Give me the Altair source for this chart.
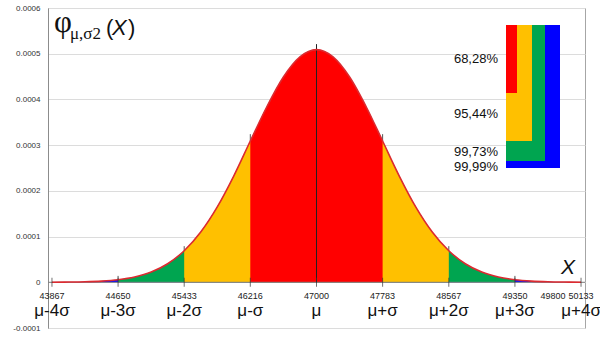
import altair as alt
import pandas as pd

# ---- data ----
x_vals = [43867, 44063, 44258, 44454, 44650, 44846, 45042, 45237, 45433,
          45629, 45825, 46021, 46216, 46412, 46608, 46804, 47000,
          47196, 47392, 47588, 47783, 47979, 48175, 48371, 48567,
          48762, 48958, 49154, 49350, 49546, 49742, 49937, 50133]
density = [0.0000002, 0.0000005, 0.0000011, 0.0000026, 0.0000057, 0.0000116,
           0.0000223, 0.0000405, 0.0000689, 0.000110, 0.000165, 0.000233,
           0.000309, 0.000384, 0.000449, 0.000493, 0.000509,
           0.000493, 0.000449, 0.000384, 0.000309, 0.000233, 0.000165,
           0.000110, 0.0000689, 0.0000405, 0.0000223, 0.0000116, 0.0000057,
           0.0000026, 0.0000011, 0.0000005, 0.0000002]

band_lo = [46216, 45433, 44650, 43867]
band_hi = [47783, 48567, 49350, 50133]
band_colors = ["#FF0000", "#FFC000", "#00A550", "#0000FF"]

num_pos = [43867, 44650, 45433, 46216, 47000, 47783, 48567, 49350, 49800, 50133]
num_labels = ["43867", "44650", "45433", "46216", "47000", "47783", "48567",
              "49350", "49800", "50133"]
sig_pos = [43867, 44650, 45433, 46216, 47000, 47783, 48567, 49350, 50133]
sig_labels = ["μ-4σ", "μ-3σ", "μ-2σ", "μ-σ", "μ", "μ+σ", "μ+2σ", "μ+3σ", "μ+4σ"]

mark_pos = [44650, 45433, 46216, 47783, 48567, 49350]
mark_lo = [0.0000057, 0.0000689, 0.000309, 0.000309, 0.0000689, 0.0000057]
mark_hi = [0.000014, 0.000079, 0.000324, 0.000324, 0.000079, 0.000014]
mu_pos = [47000]
mu_hi = [0.000521]

legend_labels = ["68,28%", "95,44%", "99,73%", "99,99%"]
y_ticks = [-0.0001, 0.0, 0.0001, 0.0002, 0.0003, 0.0004, 0.0005, 0.0006]

# ---- tables ----
curve = pd.DataFrame({"x": x_vals, "d": density})
marks_df = pd.DataFrame({"x": mark_pos, "lo": mark_lo, "hi": mark_hi})
mu_df = pd.DataFrame({"x": mu_pos, "hi": mu_hi})
num_df = pd.DataFrame({"x": num_pos, "label": num_labels})
sig_df = pd.DataFrame({"x": sig_pos, "label": sig_labels})
tick_df = pd.DataFrame({"x": sig_pos, "y": [0.0] * len(sig_pos)})

xs = alt.Scale(domain=[43820, 50180], nice=False, zero=False)
ys = alt.Scale(domain=[-0.0001, 0.0006], nice=False, zero=False)
yaxis = alt.Axis(values=y_ticks, title=None, grid=True, gridColor="#dcdcdc",
                 ticks=False, labelPadding=8, labelFontSize=8,
                 labelFont="Liberation Sans", labelColor="#333333",
                 domainColor="#8c8c8c",
                 labelExpr="replace(format(datum.value, '.4~f'), '\u2212', '-')")
X = alt.X("x:Q", scale=xs, axis=None)

layers = []
# grid / axis carrier
layers.append(alt.Chart(curve).mark_line(opacity=0).encode(
    x=X, y=alt.Y("d:Q", scale=ys, axis=yaxis)))

# bands (widest first)
for lo, hi, col in reversed(list(zip(band_lo, band_hi, band_colors))):
    layers.append(alt.Chart(curve).transform_filter(
        alt.FieldRangePredicate(field="x", range=[lo, hi])
    ).mark_area(color=col, interpolate="monotone").encode(
        x=X, y=alt.Y("d:Q", scale=ys, axis=yaxis), y2=alt.datum(0)))

# zero line
layers.append(alt.Chart(pd.DataFrame({"y": [0.0]})).mark_rule(
    color="#808080", strokeWidth=1).encode(
    y=alt.Y("y:Q", scale=ys, axis=yaxis), x=alt.value(0), x2=alt.value(537)))

# mu line
layers.append(alt.Chart(mu_df).mark_rule(color="#222222", strokeWidth=1).encode(
    x=X, y=alt.Y("hi:Q", scale=ys, axis=yaxis), y2=alt.datum(0)))
# small drop marks above the curve
layers.append(alt.Chart(marks_df).mark_rule(color="#555555", strokeWidth=1).encode(
    x=X, y=alt.Y("hi:Q", scale=ys, axis=yaxis), y2="lo:Q"))

# curve
layers.append(alt.Chart(curve).mark_line(
    color="#DC2A30", strokeWidth=1.6, interpolate="monotone").encode(
    x=X, y=alt.Y("d:Q", scale=ys, axis=yaxis)))

# axis ticks at y=0
layers.append(alt.Chart(tick_df).mark_tick(
    orient="vertical", color="#333333", thickness=1, size=9).encode(
    x=X, y=alt.Y("y:Q", scale=ys, axis=yaxis)))

# x labels
layers.append(alt.Chart(num_df).mark_text(
    font="Liberation Sans", fontSize=9, color="#222222", baseline="middle").encode(
    x=X, y=alt.value(288), text="label:N"))
layers.append(alt.Chart(sig_df).mark_text(
    font="Liberation Sans", fontSize=17, color="#111111", baseline="middle").encode(
    x=X, y=alt.value(303), text="label:N"))

one = pd.DataFrame({"k": [0]})

def txt(s, x, y, size, font="Liberation Sans", style="normal", align="left",
        baseline="alphabetic"):
    return alt.Chart(one).mark_text(
        text=s, font=font, fontSize=size, fontStyle=style, align=align,
        baseline=baseline, color="#111111").encode(
        x=alt.value(x), y=alt.value(y))

# title phi_{mu,sigma2}(X)
layers.append(txt("φ", 6, 24, 31, font="Liberation Serif"))
layers.append(txt("μ,σ2", 22, 31, 17, font="Liberation Serif"))
layers.append(txt("(", 58, 27, 22))
layers.append(txt("X", 64, 27, 22, style="italic"))
layers.append(txt(")", 80, 27, 22))
# X at right
layers.append(txt("X", 520, 260, 21, style="italic", align="center",
                  baseline="middle"))

# legend
leg_boxes = [(458, 512, 17, 160), (458, 497, 17, 153), (458, 484, 17, 133),
             (458, 469, 17, 85)]
for (x1, x2, y1, y2), col in zip(leg_boxes, list(reversed(band_colors))):
    layers.append(alt.Chart(one).mark_rect(color=col).encode(
        x=alt.value(x1), x2=alt.value(x2), y=alt.value(y1), y2=alt.value(y2)))
leg_y = [51, 106, 144, 159]
for lab, yy in zip(legend_labels, leg_y):
    layers.append(txt(lab, 450, yy, 13, align="right", baseline="middle"))

chart = alt.layer(*layers).properties(
    width=537, height=320,
    padding={"left": 48, "top": 8, "right": 15, "bottom": 20},
    autosize=alt.AutoSizeParams(type="none"),
    background="white",
).configure_view(stroke="#a6a6a6", strokeWidth=1)

chart.save("out.html", embed_options={"renderer": "svg", "actions": False})
